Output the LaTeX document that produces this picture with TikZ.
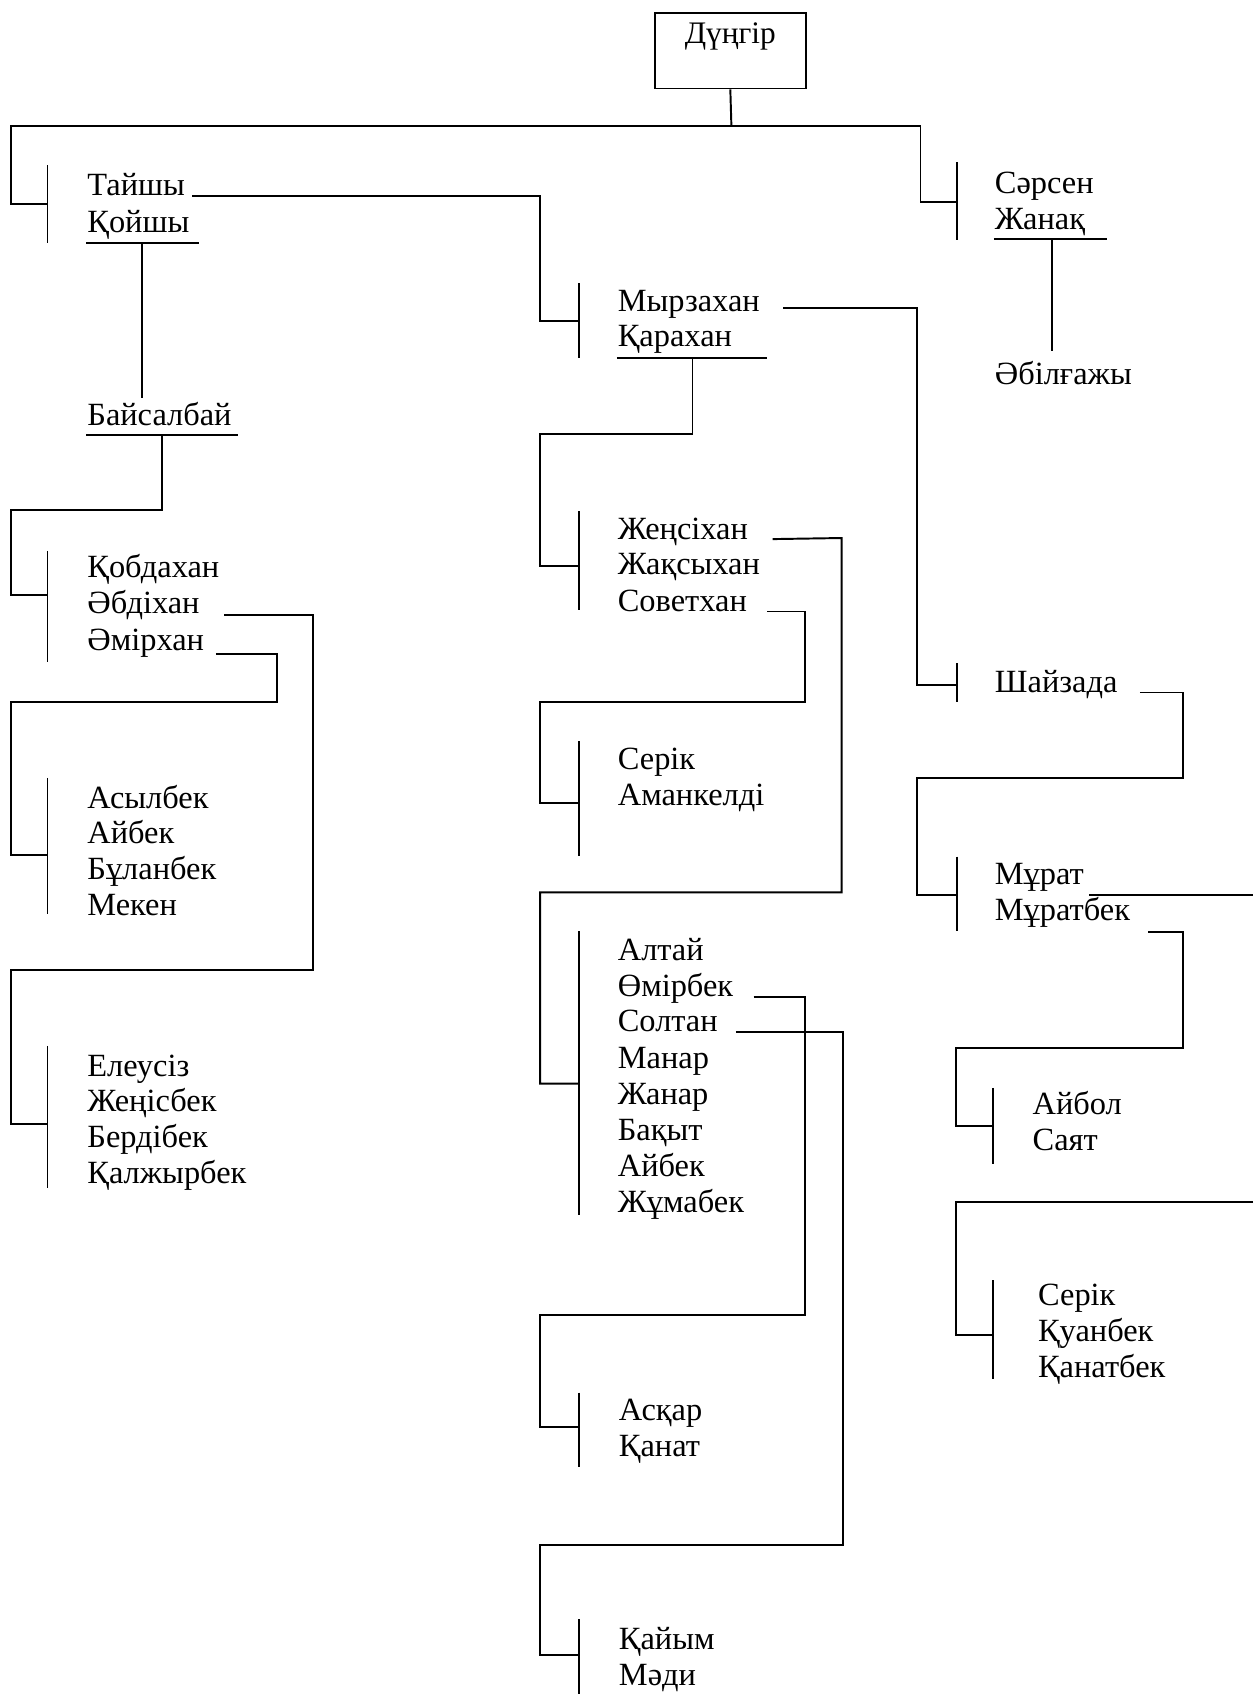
\documentclass[tikz,border=0pt]{standalone}
\usepackage{fontspec}
\setmainfont{Liberation Serif}
\begin{document}
\begin{tikzpicture}[x=1pt,y=-1pt,line width=1.8pt,
  nm/.style={anchor=base west,inner sep=0pt,font=\fontsize{30}{33}\selectfont},
  tick/.style={line width=1.6pt}]
\useasboundingbox (0,0) rectangle (1160,1568);
% root
\node[draw,line width=1.6pt,inner sep=0pt,minimum width=140pt,text height=28pt,text depth=42pt,anchor=base,font=\fontsize{29}{33}\selectfont] (dun) at (676,40) {Дүңгір};
\coordinate (top) at (677,117);
\draw (dun.south) -- (top);
\draw (44,189) -- (10,189) -- (10,117) -- (852,117) -- (852,187) -- (886,187);
\draw[tick] (44,153) -- (44,225);
\draw[tick] (886,150) -- (886,222);
% left branch
\node[nm] (tai) at (80,181) {Тайшы};
\node[nm] (qoy) at (80,215) {Қойшы};
\draw (80,225) -- (184,225);
\draw (131,225) -- (131,368);
\node[nm] (bai) at (80,394) {Байсалбай};
\draw (80,403) -- (220,403);
\draw (150,403) -- (150,472) -- (10,472) -- (10,551) -- (44,551);
\draw[tick] (44,510) -- (44,613);
\node[nm] (qob) at (80,535) {Қобдахан};
\node[nm] (abd) at (80,568) {Әбдіхан};
\node[nm] (ami) at (80,602) {Әмірхан};
\draw ([shift={(22,1)}]abd.base east) -- (290,569) -- (290,898) -- (10,898) -- (10,1040) -- (44,1040);
\draw ([shift={(10,3)}]ami.base east) -- (256,605) -- (256,650) -- (10,650) -- (10,791) -- (44,791);
\draw[tick] (44,720) -- (44,846);
\node[nm] (asy) at (80,748) {Асылбек};
\node[nm] (aib1) at (80,781) {Айбек};
\node[nm] (bul) at (80,814) {Бұланбек};
\node[nm] (mek) at (80,847) {Мекен};
\draw[tick] (44,968) -- (44,1100);
\node[nm] (ele) at (80,996) {Елеусіз};
\node[nm] (zhe) at (80,1029) {Жеңісбек};
\node[nm] (ber) at (80,1062) {Бердібек};
\node[nm] (qal) at (80,1095) {Қалжырбек};
% right top
\node[nm] (sar) at (920,179) {Сәрсен};
\node[nm] (zha) at (920,212) {Жанақ};
\draw (920,221) -- (1025,221);
\draw (974,221) -- (974,325);
\node[nm] (abi) at (920,356) {Әбілғажы};
% middle
\draw ([shift={(6,0)}]tai.base east) -- (500,181) -- (500,297) -- (536,297);
\draw[tick] (536,262) -- (536,331);
\node[nm] (myr) at (571,288) {Мырзахан};
\node[nm] (qar) at (571,321) {Қарахан};
\draw (571,331) -- (710,331);
\draw (641,331) -- (641,402) -- (500,402) -- (500,524) -- (536,524);
\draw[tick] (536,473) -- (536,565);
\node[nm] (zhen) at (571,499) {Жеңсіхан};
\node[nm] (zhaq) at (571,532) {Жақсыхан};
\node[nm] (sov) at (571,566) {Советхан};
\draw ([shift={(22,0)}]zhen.base east) -- (779,498) -- (779,826) -- (500,826) -- (500,1003) -- (536,1003);
\draw ([shift={(18,0)}]sov.base east) -- (745,566) -- (745,650) -- (500,650) -- (500,743) -- (536,743);
\draw[tick] (536,686) -- (536,792);
\node[nm] (ser1) at (571,712) {Серік};
\node[nm] (ama) at (571,746) {Аманкелді};
\draw[tick] (536,862) -- (536,1125);
\node[nm] (alt) at (571,889) {Алтай};
\node[nm] (omi) at (571,922) {Өмірбек};
\node[nm] (sol) at (571,955) {Солтан};
\node[nm] (man) at (571,989) {Манар};
\node[nm] (zhan) at (571,1022) {Жанар};
\node[nm] (baq) at (571,1056) {Бақыт};
\node[nm] (aib2) at (571,1089) {Айбек};
\node[nm] (zhum) at (571,1122) {Жұмабек};
\draw ([shift={(18,1)}]omi.base east) -- (745,923) -- (745,1217) -- (500,1217) -- (500,1321) -- (536,1321);
\draw ([shift={(16,0)}]sol.base east) -- (780,955) -- (780,1430) -- (500,1430) -- (500,1532) -- (536,1532);
\draw[tick] (536,1289) -- (536,1358);
\node[nm] (asq) at (572,1315) {Асқар};
\node[nm] (qan) at (572,1348) {Қанат};
\draw[tick] (536,1499) -- (536,1568);
\node[nm] (qai) at (572,1527) {Қайым};
\node[nm] (madi) at (572,1560) {Мәди};
% right lower
\draw ([shift={(21,-3)}]myr.base east) -- (849,285) -- (849,634) -- (886,634);
\draw[tick] (886,614) -- (886,650);
\node[nm] (sha) at (920,641) {Шайзада};
\draw ([shift={(20,0)}]sha.base east) -- (1095,641) -- (1095,720) -- (849,720) -- (849,828) -- (886,828);
\draw[tick] (886,793) -- (886,862);
\node[nm] (mur) at (920,819) {Мұрат};
\node[nm] (murb) at (920,852) {Мұратбек};
\coordinate (offr1) at (1160,828);
\draw ([shift={(4,9)}]mur.base east) -- (offr1);
\draw ([shift={(16,11)}]murb.base east) -- (1095,863) -- (1095,970) -- (885,970) -- (885,1042) -- (919,1042);
\draw[tick] (919,1007) -- (919,1077);
\node[nm] (aibo) at (955,1032) {Айбол};
\node[nm] (sayt) at (955,1065) {Саят};
\coordinate (offr2) at (1160,1113);
\draw (offr2) -- (885,1113) -- (885,1236) -- (919,1236);
\draw[tick] (919,1185) -- (919,1276);
\node[nm] (ser2) at (960,1208) {Серік};
\node[nm] (quan) at (960,1242) {Қуанбек};
\node[nm] (qana) at (960,1275) {Қанатбек};
\end{tikzpicture}
\end{document}
